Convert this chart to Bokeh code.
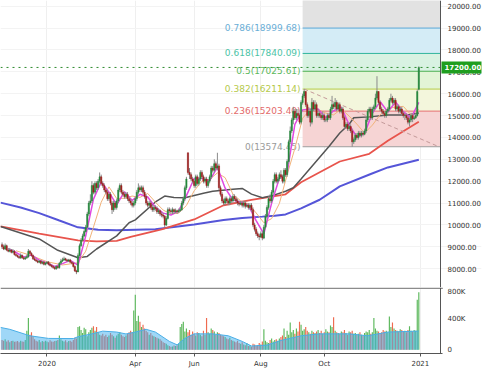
from bokeh.plotting import figure
from bokeh.models import ColumnDataSource, Range1d, FixedTicker, NumeralTickFormatter, Label, Span
from bokeh.layouts import column
from bokeh.embed import file_html
from bokeh.resources import INLINE
from bokeh.core.properties import value

# ---------------- data ----------------
opens = [
    9100, 9000, 8900, 9050, 8850, 8800, 8850, 8750, 8800, 8650,
    8600, 8550, 8500, 8600, 8500, 8450, 8500, 8550, 8800, 8700,
    8600, 8450, 8400, 8350, 8300, 8350, 8250, 8300, 8200, 8250,
    8300, 8200, 8150, 8100, 8050, 8000, 8100, 8050, 8250, 8350,
    8400, 8450, 8400, 8350, 8400, 8300, 8250, 8100, 7900, 7850,
    8600, 9050, 9300, 9500, 9700, 9900, 10500, 11000, 11100, 11800,
    11500, 11900, 11700, 12000, 12200, 11900, 11800, 11600, 11500, 11200,
    11400, 11000, 10700, 11000, 10800, 11100, 11600, 11800, 11500, 11400,
    11300, 11400, 11200, 11100, 11000, 10900, 11000, 11200, 11500, 11700,
    11600, 11700, 11500, 11300, 11000, 10900, 11000, 10800, 10700, 10800,
    10750, 10600, 10650, 10500, 10450, 10400, 10000, 10300, 10700, 10650,
    10600, 10700, 10600, 10650, 10600, 10650, 10700, 11000, 11200, 11700,
    13300, 12400, 12300, 12100, 12000, 11800, 12200, 11900, 12100, 12400,
    12200, 12000, 12100, 11800, 12000, 12200, 12600, 12500, 12800, 12600,
    12700, 11700, 11400, 11100, 11000, 11200, 11100, 11000, 11200, 11100,
    11300, 11200, 11100, 11000, 10950, 11000, 10900, 11000, 10850, 10900,
    10800, 10900, 10700, 10000, 9800, 9600, 9500, 9450, 9600, 9400,
    9900, 10400, 10800, 11200, 11100, 11500, 12000, 12300, 12000, 12100,
    12300, 12200, 12000, 12500, 12300, 12900, 13800, 14300, 14800, 15200,
    14900, 15100, 15000, 14700, 15600, 15900, 16100, 15500, 15000, 15200,
    14700, 15600, 15300, 15500, 15000, 15100, 15000, 14900, 15000, 14800,
    14800, 15000, 14900, 15300, 15500, 15400, 15600, 15300, 15500, 15200,
    15300, 14900, 14500, 14600, 14400, 14500, 14300, 13800, 13900, 14100,
    14000, 14200, 14100, 14200, 14150, 14300, 14800, 15200, 15300, 14900,
    15300, 15400, 15800, 16100, 15600, 15300, 15200, 15100, 15000, 15200,
    15300, 15700, 15800, 15600, 15700, 15300, 15400, 15200, 15300, 15100,
    15000, 15000, 14900, 14700, 14800, 15000, 14850, 14900, 15000, 16200,
]
highs = [
    9200, 9100, 9150, 9100, 8950, 8950, 8900, 8900, 8850, 8700,
    8650, 8600, 8700, 8650, 8550, 8550, 8650, 8900, 8850, 8750,
    8650, 8550, 8450, 8400, 8400, 8400, 8350, 8350, 8300, 8350,
    8350, 8250, 8200, 8150, 8100, 8150, 8150, 8300, 8450, 8500,
    8550, 8500, 8450, 8450, 8450, 8350, 8300, 8150, 7950, 8700,
    9150, 9400, 9600, 9800, 10000, 10600, 11100, 11400, 12000, 11900,
    12000, 12000, 12100, 12400, 12300, 12000, 11900, 11700, 11600, 11500,
    11500, 11100, 11100, 11100, 11200, 11700, 11900, 11900, 11600, 11500,
    11500, 11500, 11300, 11200, 11100, 11100, 11300, 11600, 11900, 11800,
    11800, 11800, 11600, 11400, 11100, 11100, 11100, 10900, 10900, 10900,
    10850, 10750, 10700, 10600, 10550, 10450, 10400, 10800, 10800, 10750,
    10800, 10750, 10750, 10700, 10750, 10800, 11100, 11300, 11800, 12200,
    13300, 12600, 12400, 12200, 12100, 12300, 12300, 12200, 12500, 12500,
    12300, 12200, 12200, 12100, 12300, 12700, 12700, 13000, 12900, 13300,
    12800, 11800, 11500, 11200, 11300, 11300, 11200, 11300, 11300, 11400,
    11400, 11300, 11200, 11100, 11100, 11100, 11100, 11100, 11000, 11000,
    11000, 11000, 10800, 10100, 9900, 9700, 9600, 9700, 9700, 10000,
    10500, 10900, 11300, 11400, 11600, 12100, 12400, 12400, 12200, 12400,
    12500, 12300, 12600, 12600, 13000, 13900, 14500, 14900, 15400, 15300,
    15300, 15300, 15100, 15700, 16000, 16211, 16100, 15600, 15400, 15300,
    15800, 15700, 15700, 15600, 15300, 15200, 15100, 15200, 15100, 14900,
    15100, 15100, 15400, 15900, 15600, 15800, 15700, 15600, 15600, 15400,
    15400, 15000, 14700, 14700, 14600, 14600, 14400, 14000, 14200, 14200,
    14300, 14300, 14300, 14300, 14400, 14900, 15300, 15400, 15400, 15400,
    15500, 16000, 16800, 16100, 15700, 15400, 15300, 15200, 15300, 15400,
    15800, 16000, 15900, 15800, 15800, 15500, 15500, 15400, 15400, 15200,
    15100, 15100, 15000, 14900, 15100, 15100, 15000, 15100, 16200, 17250,
]
lows = [
    8900, 8850, 8850, 8800, 8750, 8750, 8700, 8700, 8600, 8550,
    8500, 8450, 8450, 8450, 8400, 8400, 8450, 8500, 8650, 8550,
    8400, 8350, 8300, 8250, 8250, 8200, 8200, 8150, 8150, 8200,
    8150, 8100, 8050, 8000, 7950, 7950, 8000, 8000, 8200, 8300,
    8350, 8350, 8300, 8300, 8250, 8200, 8050, 7850, 7750, 7850,
    8550, 9000, 9250, 9450, 9650, 9850, 10400, 10900, 11000, 11400,
    11400, 11600, 11600, 11900, 11800, 11700, 11500, 11400, 11100, 11100,
    10900, 10500, 10600, 10700, 10700, 11000, 11500, 11400, 11300, 11200,
    11200, 11100, 11000, 10900, 10800, 10800, 10900, 11100, 11400, 11500,
    11500, 11400, 11200, 10900, 10800, 10800, 10700, 10600, 10600, 10650,
    10500, 10500, 10400, 10350, 10300, 9900, 9950, 10250, 10550, 10500,
    10500, 10500, 10550, 10500, 10550, 10600, 10650, 10900, 11100, 11600,
    12300, 12100, 12000, 11900, 11700, 11700, 11800, 11800, 12000, 12100,
    11900, 11900, 11700, 11700, 11900, 12100, 12400, 12400, 12500, 12500,
    11600, 11300, 11000, 10900, 10900, 11000, 10900, 10900, 11000, 11000,
    11100, 11000, 10900, 10850, 10900, 10800, 10800, 10750, 10800, 10700,
    10700, 10600, 9900, 9700, 9500, 9400, 9300, 9400, 9300, 9350,
    9800, 10300, 10700, 11000, 11000, 11400, 11900, 11900, 11900, 12000,
    12100, 11900, 11900, 12200, 12200, 12800, 13700, 14200, 14600, 14800,
    14800, 14900, 14600, 14600, 15500, 15800, 15400, 14900, 14900, 14500,
    14600, 15200, 15200, 14900, 14900, 14900, 14800, 14800, 14700, 14700,
    14700, 14800, 14800, 15200, 15300, 15300, 15200, 15200, 15100, 15100,
    14800, 14400, 14400, 14300, 14300, 14200, 13574, 13700, 13800, 13900,
    13900, 14000, 14000, 14050, 14100, 14200, 14700, 15100, 14800, 14800,
    15200, 15300, 15700, 15500, 15200, 15100, 15000, 14900, 14900, 15100,
    15200, 15600, 15500, 15500, 15200, 15200, 15100, 15100, 15000, 14900,
    14800, 14800, 14600, 14500, 14700, 14700, 14800, 14850, 14950, 16150,
]
closes = [
    9000, 8900, 9050, 8850, 8800, 8850, 8750, 8800, 8650, 8600,
    8550, 8500, 8600, 8500, 8450, 8500, 8550, 8800, 8700, 8600,
    8450, 8400, 8350, 8300, 8350, 8250, 8300, 8200, 8250, 8300,
    8200, 8150, 8100, 8050, 8000, 8100, 8050, 8250, 8350, 8400,
    8450, 8400, 8350, 8400, 8300, 8250, 8100, 7900, 7850, 8600,
    9050, 9300, 9500, 9700, 9900, 10500, 11000, 11100, 11800, 11500,
    11900, 11700, 12000, 12200, 11900, 11800, 11600, 11500, 11200, 11400,
    11000, 10700, 11000, 10800, 11100, 11600, 11800, 11500, 11400, 11300,
    11400, 11200, 11100, 11000, 10900, 11000, 11200, 11500, 11700, 11600,
    11700, 11500, 11300, 11000, 10900, 11000, 10800, 10700, 10800, 10750,
    10600, 10650, 10500, 10450, 10400, 10000, 10300, 10700, 10650, 10600,
    10700, 10600, 10650, 10600, 10650, 10700, 11000, 11200, 11700, 12100,
    12400, 12300, 12100, 12000, 11800, 12200, 11900, 12100, 12400, 12200,
    12000, 12100, 11800, 12000, 12200, 12600, 12500, 12800, 12600, 12700,
    11700, 11400, 11100, 11000, 11200, 11100, 11000, 11200, 11100, 11300,
    11200, 11100, 11000, 10950, 11000, 10900, 11000, 10850, 10900, 10800,
    10900, 10700, 10000, 9800, 9600, 9500, 9450, 9600, 9400, 9900,
    10400, 10800, 11200, 11100, 11500, 12000, 12300, 12000, 12100, 12300,
    12200, 12000, 12500, 12300, 12900, 13800, 14300, 14800, 15200, 14900,
    15100, 15000, 14700, 15600, 15900, 16100, 15500, 15000, 15200, 14700,
    15600, 15300, 15500, 15000, 15100, 15000, 14900, 15000, 14800, 14800,
    15000, 14900, 15300, 15500, 15400, 15600, 15300, 15500, 15200, 15300,
    14900, 14500, 14600, 14400, 14500, 14300, 13800, 13900, 14100, 14000,
    14200, 14100, 14200, 14150, 14300, 14800, 15200, 15300, 14900, 15300,
    15400, 15800, 16100, 15600, 15300, 15200, 15100, 15000, 15200, 15300,
    15700, 15800, 15600, 15700, 15300, 15400, 15200, 15300, 15100, 15000,
    15000, 14900, 14700, 14800, 15000, 14850, 14900, 15000, 16100, 17200,
]
volumes = [
    130000, 120000, 140000, 110000, 125000, 100000, 115000, 120000, 105000, 110000,
    115000, 100000, 120000, 110000, 105000, 130000, 250000, 420000, 200000, 230000,
    180000, 140000, 120000, 110000, 130000, 100000, 115000, 105000, 120000, 110000,
    100000, 125000, 110000, 105000, 115000, 120000, 130000, 190000, 140000, 120000,
    110000, 125000, 100000, 115000, 120000, 105000, 130000, 160000, 150000, 300000,
    310000, 260000, 220000, 290000, 270000, 180000, 230000, 260000, 290000, 310000,
    250000, 300000, 230000, 200000, 190000, 210000, 180000, 200000, 170000, 190000,
    220000, 200000, 180000, 160000, 190000, 210000, 230000, 200000, 180000, 170000,
    190000, 210000, 230000, 250000, 230000, 520000, 725000, 380000, 450000, 370000,
    300000, 330000, 280000, 250000, 230000, 200000, 220000, 190000, 180000, 170000,
    160000, 150000, 140000, 120000, 100000, 90000, 80000, 60000, 50000, 40000,
    45000, 55000, 50000, 60000, 80000, 300000, 340000, 370000, 240000, 280000,
    230000, 260000, 200000, 240000, 210000, 190000, 230000, 220000, 200000, 180000,
    250000, 200000, 420000, 230000, 210000, 280000, 260000, 240000, 200000, 230000,
    220000, 200000, 190000, 180000, 170000, 150000, 140000, 160000, 130000, 120000,
    110000, 100000, 120000, 90000, 80000, 100000, 70000, 60000, 90000, 50000,
    60000, 40000, 80000, 70000, 50000, 60000, 90000, 70000, 110000, 270000,
    120000, 100000, 90000, 130000, 150000, 110000, 130000, 140000, 120000, 150000,
    170000, 190000, 280000, 170000, 250000, 200000, 360000, 230000, 260000, 210000,
    280000, 240000, 370000, 330000, 250000, 270000, 300000, 250000, 230000, 210000,
    250000, 230000, 220000, 240000, 260000, 220000, 250000, 210000, 230000, 270000,
    240000, 230000, 320000, 300000, 430000, 250000, 230000, 220000, 210000, 240000,
    230000, 260000, 220000, 200000, 240000, 230000, 250000, 210000, 220000, 200000,
    210000, 230000, 200000, 190000, 220000, 240000, 230000, 260000, 210000, 230000,
    420000, 280000, 250000, 240000, 220000, 230000, 260000, 240000, 250000, 230000,
    440000, 300000, 360000, 280000, 260000, 250000, 240000, 270000, 260000, 240000,
    250000, 230000, 260000, 310000, 250000, 240000, 260000, 250000, 660000, 760000,
]

# moving averages (bar index, value)
ma_blue_x = [-1, 12, 24, 37, 49, 62, 74, 99, 124, 143, 155, 168, 176, 183, 193, 205, 218, 238, 249, 269]
ma_blue_y = [11020, 10800, 10540, 10200, 9890, 9780, 9760, 9800, 10020, 10230, 10320, 10380, 10420,
             10480, 10760, 11150, 11760, 12330, 12630, 12980]
ma_red_x = [-1, 24, 49, 61, 74, 83, 103, 124, 143, 161, 176, 183, 193, 218, 237, 249, 269]
ma_red_y = [9930, 9600, 9290, 9250, 9270, 9450, 9800, 10250, 10900, 11150, 11320, 11400, 11950,
            12900, 13250, 13850, 14720]
ma_grey_x = [-1, 24, 36, 49, 55, 61, 74, 82, 86, 99, 105, 111, 118, 124, 130, 136, 149, 155, 161,
             168, 174, 183, 188, 193, 211, 218, 224, 227, 237, 249, 262, 269]
ma_grey_y = [9930, 9360, 8840, 8500, 8560, 8900, 9500, 10100, 10230, 11050, 11320, 11250, 11240,
             11350, 11450, 11540, 11630, 11670, 11410, 11240, 11330, 11540, 11700, 12100, 13590,
             14200, 14600, 14900, 14940, 15030, 15030, 15117]
ma_pink_x = list(range(4, 270, 5))
ma_pink_y = [8920, 8740, 8540, 8620, 8390, 8260, 8100, 8230, 8380, 8160, 9490, 11180, 11960, 11500,
             10920, 11520, 11120, 11400, 11280, 10810, 10540, 10450, 10640, 11340, 12120, 12120,
             12020, 12640, 11680, 11140, 11050, 10890, 10200, 9590, 11000, 12140, 12380, 14600,
             15260, 15300, 15300, 14900, 15220, 15380, 14580, 14020, 14190, 15100, 15640, 15160,
             15620, 15180, 14880, 15600]
ma_orange_x = [9, 19, 29, 39, 49, 54, 59, 64, 69, 74, 79, 84, 89, 94, 99, 104, 109, 114, 119, 124,
               129, 134, 139, 144, 149, 154, 159, 164, 169, 174, 179, 184, 189, 194, 199, 204, 209,
               214, 219, 224, 229, 234, 239, 244, 249, 254, 259, 264, 269]
ma_orange_y = [8820, 8600, 8320, 8170, 8270, 8800, 9900, 11040, 11740, 11210, 11220, 11320, 11260,
               11440, 11040, 10680, 10500, 10540, 10890, 11560, 12000, 12080, 12380, 12160, 11410,
               11100, 10960, 10550, 10100, 10290, 10980, 12290, 13500, 14880, 15280, 15280, 15110,
               15030, 15300, 14980, 14610, 14200, 14560, 15030, 15330, 15390, 15420, 15030, 15280]
vol_ma_x = [-1, 5, 18, 30, 46, 49, 58, 65, 74, 80, 86, 93, 99, 108, 113, 118, 124, 136, 146, 155,
            161, 171, 180, 193, 205, 224, 236, 249, 268, 269]
vol_ma_y = [295000, 270000, 185000, 150000, 148000, 172000, 210000, 246000, 234000, 209000, 234000,
            270000, 234000, 111000, 65000, 150000, 210000, 210000, 185000, 111000, 50000, 62000,
            123000, 185000, 210000, 210000, 185000, 234000, 246000, 250000]

# Fibonacci retracement
fib_ratios = [0, 0.236, 0.382, 0.5, 0.618, 0.786, 1]
fib_prices = [13574.45, 15203.40, 16211.14, 17025.61, 17840.09, 18999.68, 20476.76]
fib_texts = ["0(13574.45)", "0.236(15203.40)", "0.382(16211.14)", "0.5(17025.61)",
             "0.618(17840.09)", "0.786(18999.68)"]
fib_start = 194      # bar of the swing high
fib_end = 283        # right edge of the price area
trend_x = [195, 282]
trend_y = [16211.14, 13574.45]
last_price = 17200.00

tick_index = [29, 86, 124, 167, 208, 270]
tick_labels = ["2020", "Apr", "Jun", "Aug", "Oct", "2021"]
price_ticks = list(range(8000, 20001, 1000))
vol_ticks = [0, 400000, 800000]
vol_tick_labels = ["0", "400K", "800K"]

# ---------------- layout / styling ----------------
FONT = "DejaVu Sans"
AXIS_FS = "7px"
FRAME_W = 481          # frame includes the price-scale strip on the right
PRICE_W = 440          # width of the price area inside the frame
X_END = -1 + (fib_end + 1) * FRAME_W / PRICE_W
AXIS_COLOR = "#555555"
fib_line_colors = ["#9e9e9e", "#e57373", "#b7cc48", "#4caf50", "#2fb59c", "#5aa6d6", "#9e9e9e"]
fib_text_colors = ["#9a9a9a", "#e36a6a", "#b5c94a", "#5cb85c", "#4cc3a6", "#6aaed6"]
fib_fill_colors = ["#f6d4d4", "#f3f6dc", "#e3f4d6", "#d8f2e2", "#d4ecf6", "#e2e2e2"]

n = len(closes)
idx = list(range(n))
up = [c >= o for o, c in zip(opens, closes)]
src = ColumnDataSource(dict(
    x=idx, o=opens, h=highs, l=lows, c=closes, v=volumes,
    top=[max(o, c) for o, c in zip(opens, closes)],
    bot=[min(o, c) for o, c in zip(opens, closes)],
    col=["#23883a" if u else "#a11f1f" for u in up],
    vcol=["#5cb85c" if u else "#ef6a50" for u in up],
))

xr = Range1d(-1, X_END)


def style_price_axis(ax):
    ax.major_label_text_font = FONT
    ax.major_label_text_font_size = AXIS_FS
    ax.major_label_text_color = "#333333"
    ax.axis_line_color = None
    ax.major_tick_line_color = None
    ax.major_tick_out = 0
    ax.major_tick_in = 0
    ax.minor_tick_line_color = None
    ax.major_label_standoff = -34


p = figure(frame_width=FRAME_W, frame_height=287, x_range=xr, y_range=Range1d(7140, 20260),
           x_axis_location=None, y_axis_location="right", toolbar_location=None,
           output_backend="svg", min_border_left=0, min_border_right=0, min_border_top=0,
           min_border_bottom=0, outline_line_color=None, background_fill_color="white")

# fib fills
p.quad(left=[fib_start] * 6, right=[fib_end] * 6, bottom=fib_prices[:-1], top=fib_prices[1:],
       fill_color=fib_fill_colors, line_color=None)
for pr, lc in zip(fib_prices, fib_line_colors):
    p.segment(x0=fib_start, x1=fib_end, y0=pr, y1=pr, line_color=lc, line_width=1)
p.text(x=[fib_start - 1.3] * 6, y=fib_prices[:-1], text=fib_texts, text_align="right",
       text_baseline="middle", text_color=fib_text_colors, text_font=value(FONT),
       text_font_size="9px")

p.line(ma_blue_x, ma_blue_y, line_color="#5555d8", line_width=2)
p.line(ma_red_x, ma_red_y, line_color="#e8544c", line_width=1.8)
p.line(ma_grey_x, ma_grey_y, line_color="#555555", line_width=1.5)
p.line(ma_orange_x, ma_orange_y, line_color="#f2b37a", line_width=1)
p.line(ma_pink_x, ma_pink_y, line_color="#e048e0", line_width=1.5)
p.line(trend_x, trend_y, line_color="#c49a9a", line_width=1, line_dash="4 3")

p.segment(x0="x", x1="x", y0="l", y1="h", source=src, line_color="#8a8a8a", line_width=1)
p.vbar(x="x", width=0.8, top="top", bottom="bot", source=src, fill_color="col", line_color="col",
       line_width=0.5)

# last price: dotted line + tag on the price scale
p.segment(x0=-1, x1=fib_end, y0=last_price, y1=last_price, line_color="#2e8b2e", line_width=1,
          line_dash="dotted")
p.add_layout(Span(location=fib_end, dimension="height", line_color=AXIS_COLOR, line_width=1))
p.add_layout(Label(x=fib_end, y=last_price, x_offset=1, text="%.2f" % last_price,
                   text_align="left", text_baseline="middle", text_color="white",
                   text_font=FONT, text_font_size=AXIS_FS, text_font_style="bold",
                   background_fill_color="#1f9e1f", padding=3))

p.yaxis.ticker = FixedTicker(ticks=price_ticks)
p.yaxis.formatter = NumeralTickFormatter(format="0.00")
style_price_axis(p.yaxis)
p.xgrid.ticker = FixedTicker(ticks=tick_index)
p.xgrid.grid_line_color = "#efefef"
p.ygrid.ticker = FixedTicker(ticks=price_ticks)
p.ygrid.grid_line_color = "#f3f3f3"

# ---------------- volume panel ----------------
VOL_TOP = 812000
q = figure(frame_width=FRAME_W, frame_height=66, x_range=xr, y_range=Range1d(-49000, 822000),
           y_axis_location="right", toolbar_location=None, output_backend="svg",
           min_border_left=0, min_border_right=0, min_border_top=0, min_border_bottom=0,
           outline_line_color=None)
q.vbar(x="x", width=0.75, top="v", bottom=0, source=src, fill_color="vcol", line_color=None)
q.varea(x=vol_ma_x, y1=[0] * len(vol_ma_x), y2=vol_ma_y, fill_color="#3fb0f0", fill_alpha=0.5)
q.line(vol_ma_x, vol_ma_y, line_color="#4aaee6", line_width=1)
q.segment(x0=-1, x1=fib_end + 1.5, y0=VOL_TOP, y1=VOL_TOP, line_color="#8c8c8c", line_width=1.5)
q.add_layout(Span(location=fib_end, dimension="height", line_color=AXIS_COLOR, line_width=1))

q.yaxis.ticker = FixedTicker(ticks=vol_ticks)
q.yaxis.major_label_overrides = {t: s for t, s in zip(vol_ticks, vol_tick_labels)}
style_price_axis(q.yaxis)
q.xaxis.ticker = FixedTicker(ticks=tick_index)
q.xaxis.major_label_overrides = {t: s for t, s in zip(tick_index, tick_labels)}
q.xaxis.bounds = (-1, fib_end + 1.5)
q.xaxis.major_label_text_font = FONT
q.xaxis.major_label_text_font_size = AXIS_FS
q.xaxis.major_label_text_color = "#333333"
q.xaxis.axis_line_color = AXIS_COLOR
q.xaxis.major_tick_line_color = AXIS_COLOR
q.xaxis.major_tick_out = 3
q.xaxis.major_tick_in = 0
q.xaxis.minor_tick_line_color = None
q.xaxis.major_label_standoff = 3
q.xgrid.ticker = FixedTicker(ticks=tick_index)
q.xgrid.grid_line_color = "#efefef"
q.ygrid.grid_line_color = None

layout = column(p, q, spacing=0)
open("out.html", "w").write(file_html(layout, INLINE))
